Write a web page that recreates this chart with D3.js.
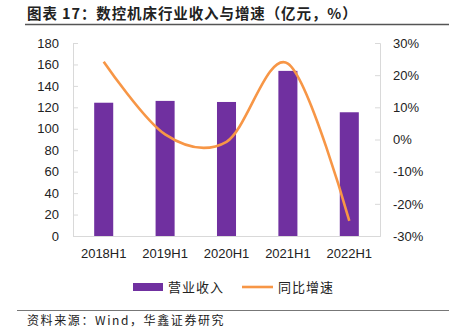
<!DOCTYPE html>
<html><head><meta charset="utf-8">
<script src="https://cdn.jsdelivr.net/npm/d3@7"></script>
<style>
body{margin:0;background:#fff;}
svg text{font-family:"Liberation Sans",Arial,sans-serif;}
.cjk{font-family:"Noto Sans CJK SC","Liberation Sans",sans-serif;}
</style></head>
<body><svg id="c" width="451" height="336"></svg>
<script>
const categories = ["2018H1","2019H1","2020H1","2021H1","2022H1"];
const revenue = [124.3, 126, 125, 154, 115.4];
const growth = [24.2, 1.6, -0.7, 23.6, -25.3];
const leftTicks = [0,20,40,60,80,100,120,140,160,180];
const rightTicks = [-30,-20,-10,0,10,20,30];

const svg = d3.select("#c");
const L = 73, R = 380, T = 43, B = 236;
const x = d3.scaleBand().domain(categories).range([L, R]).paddingInner(0.69).paddingOuter(0.345);
const y = d3.scaleLinear().domain([0,180]).range([B, T]);
const y2 = d3.scaleLinear().domain([-30,30]).range([B, T]);

// title
svg.append("text").attr("class","cjk").attr("x",27).attr("y",19)
  .attr("font-size",14.5).attr("font-weight","bold").attr("fill","#222")
  .attr("letter-spacing",0.9)
  .text("图表 17：数控机床行业收入与增速（亿元，%）");
svg.append("line").attr("x1",25).attr("x2",449).attr("y1",24.5).attr("y2",24.5)
  .attr("stroke","#555").attr("stroke-width",1.3);

// left axis
const gl = svg.append("g").attr("transform",`translate(${L},0)`)
  .call(d3.axisLeft(y).tickValues(leftTicks).tickSize(-5).tickPadding(14));
gl.select(".domain").attr("stroke","#d9d9d9");
gl.selectAll(".tick line").attr("stroke","#d9d9d9");
gl.selectAll("text").attr("font-size",13).attr("fill","#222");

// right axis
const gr = svg.append("g").attr("transform",`translate(${R},0)`)
  .call(d3.axisRight(y2).tickValues(rightTicks).tickFormat(d=>d+"%").tickSize(-5).tickPadding(13));
gr.select(".domain").attr("stroke","#d9d9d9");
gr.selectAll(".tick line").attr("stroke","#d9d9d9");
gr.selectAll("text").attr("font-size",13).attr("fill","#222");

// bottom axis
const gb = svg.append("g").attr("transform",`translate(0,${B})`)
  .call(d3.axisBottom(x).tickSize(0).tickPadding(13));
gb.select(".domain").attr("stroke","#d9d9d9");
gb.selectAll("text").attr("font-size",13).attr("fill","#222");

// bars
svg.append("g").selectAll("rect").data(revenue).join("rect")
  .attr("x",(d,i)=>x(categories[i])).attr("width",x.bandwidth())
  .attr("y",d=>y(d)).attr("height",d=>B-y(d))
  .attr("fill","#7030A0");

// line
const line = d3.line().x((d,i)=>x(categories[i])+x.bandwidth()/2).y(d=>y2(d))
  .curve(d3.curveCatmullRom.alpha(0));
svg.append("path").datum(growth).attr("d",line)
  .attr("fill","none").attr("stroke","#F79646").attr("stroke-width",2.6);

// legend
svg.append("rect").attr("x",133).attr("y",283).attr("width",30).attr("height",8).attr("fill","#7030A0");
svg.append("text").attr("class","cjk").attr("x",168).attr("y",292).attr("font-size",13).attr("letter-spacing",1).attr("fill","#222").text("营业收入");
svg.append("line").attr("x1",242).attr("x2",273).attr("y1",287).attr("y2",287).attr("stroke","#F79646").attr("stroke-width",2.6);
svg.append("text").attr("class","cjk").attr("x",278).attr("y",292).attr("font-size",13).attr("letter-spacing",1).attr("fill","#222").text("同比增速");

// source
svg.append("line").attr("x1",17).attr("x2",449).attr("y1",310.5).attr("y2",310.5).attr("stroke","#777").attr("stroke-width",1);
svg.append("text").attr("class","cjk").attr("x",27).attr("y",325).attr("font-size",12).attr("letter-spacing",1.6).attr("fill","#222").text("资料来源：Wind，华鑫证券研究");
</script></body></html>
